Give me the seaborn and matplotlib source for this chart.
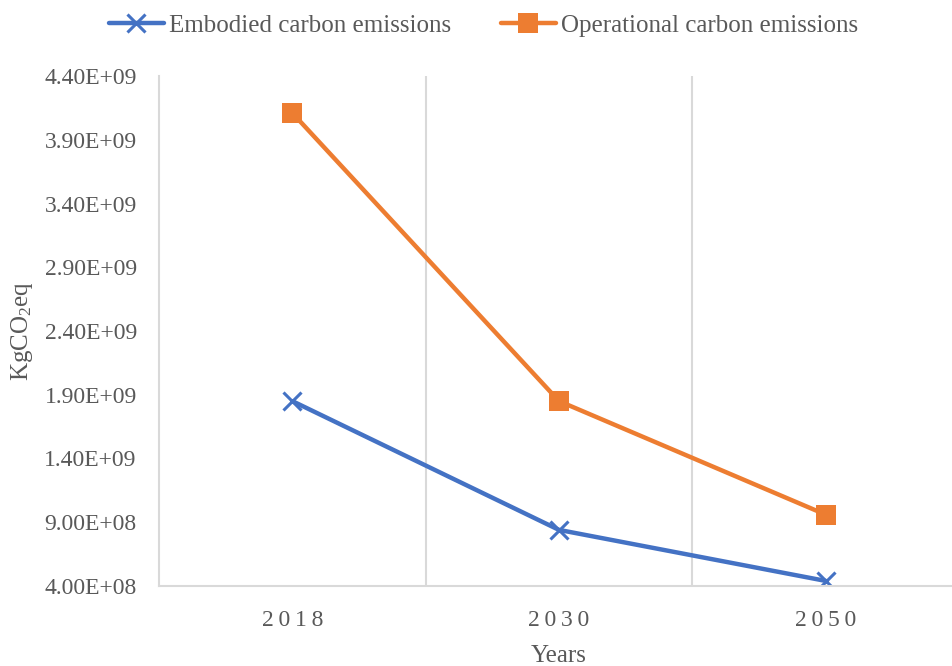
import matplotlib
matplotlib.use("Agg")
import matplotlib.pyplot as plt
import seaborn as sns
import pandas as pd
from matplotlib.ticker import FuncFormatter, FixedLocator
from matplotlib.lines import Line2D

years = ["2018", "2030", "2050"]
embodied = [1.85e9, 0.84e9, 0.44e9]
operational = [4.11e9, 1.85e9, 0.96e9]
series_names = ["Embodied carbon emissions", "Operational carbon emissions"]
yticks = [4.0e8, 9.0e8, 1.4e9, 1.9e9, 2.4e9, 2.9e9, 3.4e9, 3.9e9, 4.4e9]

sns.set_theme(style="white")
plt.rcParams['font.family'] = ['Liberation Serif', 'DejaVu Serif']
plt.rcParams['mathtext.fontset'] = 'custom'
plt.rcParams['mathtext.rm'] = 'Liberation Serif'
plt.rcParams['mathtext.it'] = 'Liberation Serif:italic'

BLUE = "#4472C4"
ORANGE = "#ED7D31"
TXT = "#595959"
GRID = "#D9D9D9"

df = pd.DataFrame({
    "Year": years * 2,
    "Value": embodied + operational,
    "Series": [series_names[0]] * 3 + [series_names[1]] * 3,
})

fig = plt.figure(figsize=(9.53, 6.66), dpi=100)
W, H = 953, 666
left, right, top, bottom = 159, 959, 76, 586
ax = fig.add_axes([left / W, (H - bottom) / H, (right - left) / W, (bottom - top) / H])

sns.lineplot(data=df[df.Series == series_names[0]], x="Year", y="Value", ax=ax,
             color=BLUE, linewidth=3.2, marker="x", markersize=13,
             markeredgewidth=2.2, markeredgecolor=BLUE, sort=False, legend=False)
sns.lineplot(data=df[df.Series == series_names[1]], x="Year", y="Value", ax=ax,
             color=ORANGE, linewidth=3.2, marker="s", markersize=14,
             markeredgewidth=0, sort=False, legend=False)

ax.set_xlim(-0.5, 2.5)
ax.set_ylim(4.0e8, 4.4e9)
ax.yaxis.set_major_locator(FixedLocator(yticks))
ax.yaxis.set_major_formatter(FuncFormatter(lambda v, p: f"{v:.2E}"))
ax.set_xticks(range(len(years)))
ax.set_xticklabels(["\u2009".join(y) for y in years])
ax.set_xticks([0.5, 1.5], minor=True)
ax.grid(False)
ax.grid(True, which="minor", axis="x", color=GRID, linewidth=1.5)
ax.tick_params(axis="x", which="both", length=0, pad=17, labelsize=17, labelcolor=TXT)
ax.tick_params(axis="y", length=0, pad=16, labelsize=17, labelcolor=TXT)
for s in ["right", "top"]:
    ax.spines[s].set_visible(False)
for s in ["left", "bottom"]:
    ax.spines[s].set_color(GRID)
    ax.spines[s].set_linewidth(1.5)

ax.set_xlabel("Years", fontsize=18, color=TXT, labelpad=10)
ax.set_ylabel(r"KgCO$_\mathregular{2}$eq", fontsize=18, color=TXT, labelpad=7)

handles = [
    Line2D([], [], color=BLUE, linewidth=3.2, marker="x", markersize=13, markeredgewidth=2.2),
    Line2D([], [], color=ORANGE, linewidth=3.2, marker="s", markersize=14, markeredgewidth=0),
]
leg = fig.legend(handles, series_names, loc="upper center", bbox_to_anchor=(0.507, 1.012),
                 ncol=2, frameon=False, fontsize=18, handlelength=2.2,
                 columnspacing=2.0, handletextpad=0.2)
for t in leg.get_texts():
    t.set_color(TXT)

fig.savefig("out.png", dpi=100)
